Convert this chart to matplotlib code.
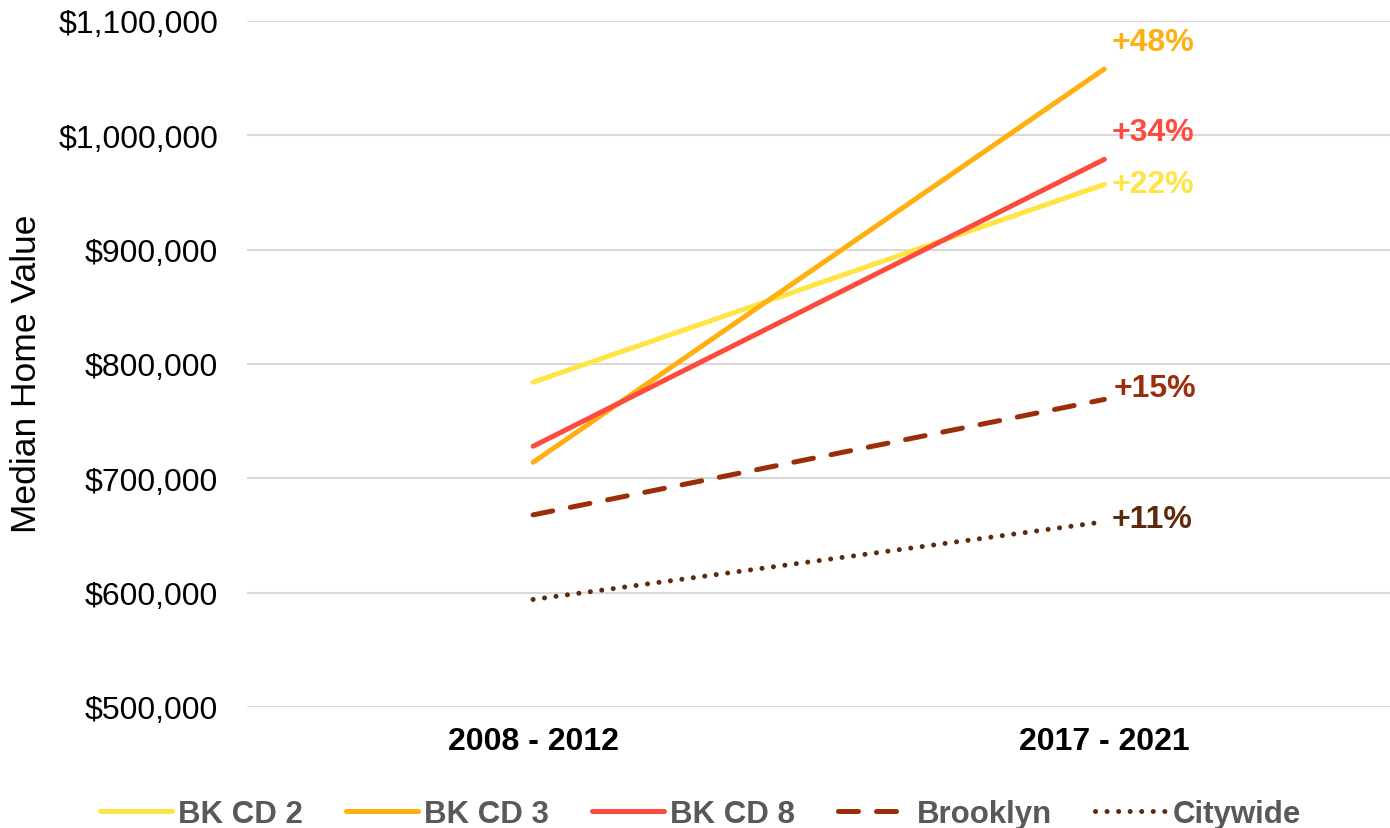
import matplotlib.pyplot as plt
from matplotlib.ticker import FuncFormatter

# data
periods = ['2008 - 2012', '2017 - 2021']
names = ['BK CD 2', 'BK CD 3', 'BK CD 8', 'Brooklyn', 'Citywide']
cd2 = [784000, 957000]
cd3 = [714000, 1058000]
cd8 = [728000, 979000]
brooklyn = [668000, 769000]
citywide = [594000, 662000]
changes = ['+22%', '+48%', '+34%', '+15%', '+11%']

colors = ['#FFE445', '#FFB011', '#FF4B3E', '#9B2D0A', '#5C2A0E']
styles = ['-', '-', '-', (0, (4, 3.6)), (0, (0.01, 2.3))]
# label offsets in pixels (dx, dy)
offsets = [(7, 0), (7, 27), (7, 27), (9, 11), (7, 3)]

plt.rcParams['font.family'] = ['Liberation Sans', 'DejaVu Sans']

fig = plt.figure(figsize=(13.9, 8.29), dpi=100)
ax = fig.add_axes([0.178, 0.146, 0.822, 0.8275])

x = range(len(periods))
series = [cd2, cd3, cd8, brooklyn, citywide]
for vals, name, c, ls, lab, off in zip(series, names, colors, styles, changes, offsets):
    ax.plot(x, vals, color=c, lw=3.6, ls=ls, label=name,
            solid_capstyle='round', dash_capstyle='round')
    ax.annotate(lab, (1, vals[1]), xytext=(off[0] * 0.72, off[1] * 0.72),
                textcoords='offset points', color=c, fontsize=23,
                fontweight='bold', va='center', ha='left')

ax.set_xlim(-0.5, 1.5)
ax.set_ylim(500000, 1100000)
ax.set_xticks(list(x))
ax.set_xticklabels(periods, fontsize=23, fontweight='bold')
ax.yaxis.set_major_formatter(FuncFormatter(lambda v, p: '${:,.0f}'.format(v)))
ax.tick_params(axis='y', labelsize=23, length=0, pad=21)
ax.tick_params(axis='x', length=0, pad=14)
ax.set_ylabel('Median Home Value', fontsize=25.5)
ax.yaxis.set_label_coords(-0.179, 0.487)
ax.grid(axis='y', color='#D9D9D9', lw=1.5)
ax.set_axisbelow(True)
for s in ax.spines.values():
    s.set_visible(False)

leg = fig.legend(loc='center', bbox_to_anchor=(0.504, 0.017), ncol=5, frameon=False,
                 handlelength=2.3, handletextpad=0.2, columnspacing=1.38,
                 prop={'weight': 'bold', 'size': 22.5})
for t in leg.get_texts():
    t.set_color('#595959')

fig.savefig('out.png', dpi=100)
